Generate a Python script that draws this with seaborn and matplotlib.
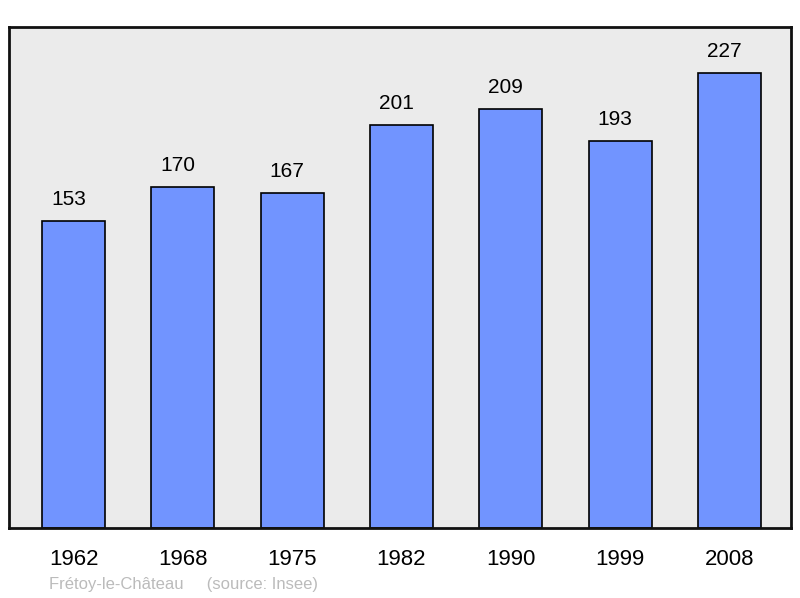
import matplotlib
matplotlib.use("Agg")
import matplotlib.pyplot as plt
import seaborn as sns
import pandas as pd

years = ["1962", "1968", "1975", "1982", "1990", "1999", "2008"]
population = [153, 170, 167, 201, 209, 193, 227]
footer = "Frétoy-le-Château     (source: Insee)"

sns.set_theme(style="white")
plt.rcParams['font.family'] = ['Liberation Sans', 'DejaVu Sans']

df = pd.DataFrame({"year": years, "pop": population})

fig = plt.figure(figsize=(8, 5.98), dpi=100)
ax = fig.add_axes([8.5/800, 1-528/598, (791-8.5)/800, (528-27)/598])
ax.set_facecolor("#EBEBEB")

sns.barplot(data=df, x="year", y="pop", order=years, color="#7194FF",
            saturation=1, width=0.576, edgecolor="black", linewidth=1.2, ax=ax)

for c in ax.containers:
    anns = ax.bar_label(c, padding=9, fontsize=15, color="black")
    for a in anns:
        a.xyann = (-3.6, 9)

ax.set_xlim(-0.595, 6.563)
ax.set_ylim(0, 250)
ax.set_xlabel("")
ax.set_ylabel("")
ax.set_yticks([])
ax.tick_params(axis="x", length=0, pad=15, labelsize=16, labelcolor="black")
for s in ax.spines.values():
    s.set_visible(True)
    s.set_color("#111111")
    s.set_linewidth(2)

fig.text(49/800, 1-589/598, footer, fontsize=12, color="#BBBBBB", va="baseline", ha="left")

fig.savefig("out.png", dpi=100)
